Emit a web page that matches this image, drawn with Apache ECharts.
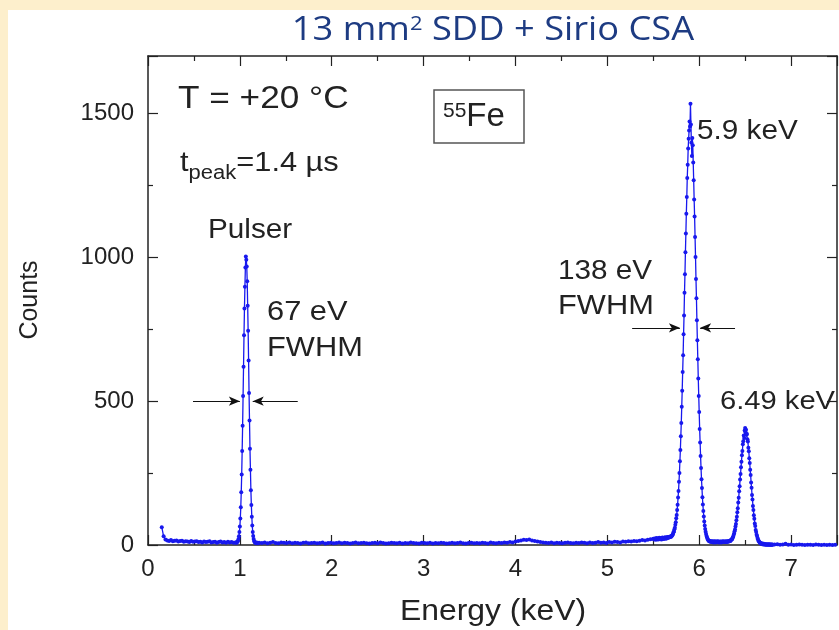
<!DOCTYPE html>
<html>
<head>
<meta charset="utf-8">
<script src="https://cdn.jsdelivr.net/npm/echarts@6/dist/echarts.min.js"></script>
<style>
  html, body { margin: 0; padding: 0; background: #fdefcc; }
  #chart { position: absolute; left: 8px; top: 10px; width: 831px; height: 620px; }
</style>
</head>
<body>
<div id="chart"></div>
<script>
// 55Fe spectrum in channel segments (start keV, step keV, counts)
const lowStart = 0.15, lowStep = 0.02
const lowCounts = [62, 30, 19, 16, 14, 17, 13, 15, 16, 12, 14, 15, 11, 13, 12, 10, 14, 11, 12, 13,
  10, 11, 9, 12, 10, 11, 13, 9, 10, 11, 8, 10, 12, 9, 10, 8, 11, 9, 10, 8, 9]

const pulserStart = 0.96, pulserStep = 0.005
const pulserCounts = [9, 8, 10, 12, 15, 21, 30, 45, 64, 92, 131, 183, 245, 327, 415, 518, 620, 729, 822, 898,
  965, 1003, 992, 968, 917, 832, 745, 641, 528, 433, 335, 262, 190, 139, 98, 68, 45, 31, 21, 14,
  11, 9, 8, 7, 9, 6, 7, 8, 6]

const midStart = 1.21, midStep = 0.03
const midCounts = [8, 7, 9, 6, 8, 10, 7, 6, 9, 8, 7, 9, 6, 8, 7, 5, 8, 9, 6, 7,
  8, 6, 7, 9, 5, 7, 8, 6, 7, 9, 6, 8, 7, 5, 7, 9, 6, 7, 8, 6,
  5, 7, 8, 6, 9, 7, 5, 6, 8, 7, 6, 8, 5, 7, 6, 9, 7, 6, 5, 8,
  7, 6, 8, 5, 7, 6, 8, 7, 5, 6, 8, 6, 7, 9, 6, 5, 7, 8, 6, 7,
  6, 8, 7, 5, 9, 7, 6, 8, 7, 9, 8, 10, 9, 12, 14, 16, 18, 17, 19, 16,
  14, 12, 10, 9, 8, 7, 9, 6, 8, 7, 6, 8, 9, 7, 6, 8, 7, 9, 8, 6,
  9, 7, 8, 10, 8, 9, 7, 10, 9, 11, 10, 9, 12, 11, 13, 12, 14, 13, 15, 17,
  16, 18, 20, 22]

// Mn K-alpha (5.9 keV) and K-beta (6.49 keV)
const mnStart = 5.505, mnStep = 0.005
const mnCounts = [21, 19, 23, 20, 22, 18, 24, 21, 20, 23, 19, 22, 25, 21, 20, 24, 22, 19, 23, 26,
  22, 24, 21, 25, 23, 27, 24, 22, 26, 25, 28, 24, 27, 26, 29, 28, 28, 30, 29, 31,
  33, 36, 38, 44, 47, 55, 60, 70, 79, 93, 104, 122, 140, 165, 188, 220, 250, 291, 330, 378,
  424, 481, 536, 601, 660, 733, 798, 877, 941, 1018, 1083, 1152, 1210, 1276, 1322, 1378, 1412, 1441, 1472, 1455,
  1534, 1462, 1398, 1352, 1415, 1390, 1330, 1268, 1201, 1142, 1071, 1001, 925, 858, 781, 712, 646, 579, 518, 462,
  403, 356, 309, 268, 229, 198, 166, 141, 118, 99, 82, 68, 56, 46, 38, 31, 27, 22, 19, 16,
  15, 13, 12, 14, 11, 12, 10, 13, 11, 12, 9, 12, 10, 13, 11, 9, 12, 10, 11, 13,
  10, 12, 9, 11, 10, 12, 11, 9, 12, 10, 11, 13, 10, 12, 11, 10, 12, 11, 13, 10,
  12, 11, 13, 12, 14, 13, 15, 14, 17, 18, 20, 21, 26, 29, 35, 40, 48, 54, 64, 73,
  86, 98, 114, 128, 148, 164, 187, 204, 228, 247, 270, 289, 312, 327, 350, 361, 381, 372, 398, 407,
  392, 401, 383, 386, 368, 360, 338, 326, 302, 285, 262, 243, 217, 199, 174, 158, 136, 122, 103, 91,
  75, 66, 52, 45, 36, 31, 24, 20, 15, 13, 10, 8, 7, 5, 6, 4, 3, 5, 3, 2,
  4, 3, 2, 3, 1, 2, 3, 1, 2, 2, 1, 3, 2, 1, 2, 1, 2, 1, 2, 1]

const highStart = 6.82, highStep = 0.03
const highCounts = [2, 3, 1, 2, 4, 1, 2, 0, 1, 2, 1, 0, 1, 1, 0, 2, 1, 0, 1, 0, 1, 0, 1]

// FWHM arrows: [from keV, to keV, counts]
const fwhmArrows = [[0.49, 1.0, 500], [1.63, 1.14, 500], [5.27, 5.79, 755], [6.39, 6.01, 755]]

function channels(start, step, counts) {
  return counts.map((c, i) => [+(start + i * step).toFixed(4), c])
}

const spectrum = [].concat(
  channels(lowStart, lowStep, lowCounts),
  channels(pulserStart, pulserStep, pulserCounts),
  channels(midStart, midStep, midCounts),
  channels(mnStart, mnStep, mnCounts),
  channels(highStart, highStep, highCounts)
)

const FONT = 'Liberation Sans'
const INK = '#222'
const BLUE = '#1818ee'
const STRETCH = 1.1   // the original figure is a bit wider than tall

// box frame: onZero off so the top/right copies stay on their own side
function frameAxis(extra) {
  return Object.assign({
    type: 'value',
    axisLine: { show: true, onZero: false, lineStyle: { color: INK, width: 1.5 } },
    axisTick: { show: true, inside: true, length: 10, lineStyle: { color: INK, width: 1.2 } },
    minorTick: { show: true, splitNumber: 2, length: 5, lineStyle: { color: INK, width: 1.2 } },
    splitLine: { show: false }
  }, extra)
}

function tickLabels() {
  return { fontSize: 24, color: INK, fontFamily: FONT, showMaxLabel: false, formatter: v => String(v) }
}

function note(x, y, text, size, align) {
  return {
    type: 'text', x: x, y: y, z: 10, scaleX: STRETCH,
    style: { text: text, fill: INK, fontSize: size, fontFamily: FONT, align: align || 'left', verticalAlign: 'middle' }
  }
}

const chart = echarts.init(document.getElementById('chart'))

const option = {
  backgroundColor: '#fff',
  animation: false,
  textStyle: { fontFamily: FONT },
  grid: { left: 140, top: 46, right: 2, bottom: 85 },
  xAxis: [
    frameAxis({ min: 0, max: 7.5, interval: 1, position: 'bottom',
      axisLabel: Object.assign(tickLabels(), { margin: 12 }) }),
    frameAxis({ min: 0, max: 7.5, interval: 1, position: 'top', axisLabel: { show: false } })
  ],
  yAxis: [
    frameAxis({ min: 0, max: 1700, interval: 500, position: 'left',
      axisLabel: Object.assign(tickLabels(), { margin: 14 }) }),
    frameAxis({ min: 0, max: 1700, interval: 500, position: 'right', axisLabel: { show: false } })
  ],
  series: [
    {
      type: 'line',
      data: spectrum,
      symbol: 'circle',
      symbolSize: 4,
      showSymbol: true,
      color: BLUE,
      lineStyle: { color: BLUE, width: 1.3 },
      itemStyle: { color: BLUE },
      markLine: {
        silent: true,
        symbol: ['none', 'arrow'],
        symbolSize: [7, 11],
        label: { show: false },
        lineStyle: { color: '#111', width: 1.2, type: 'solid' },
        emphasis: { disabled: true },
        data: fwhmArrows.map(a => [{ coord: [a[0], a[2]] }, { coord: [a[1], a[2]] }])
      }
    }
  ],
  graphic: [
    {
      type: 'text', x: 485, y: 21, z: 10, scaleX: STRETCH,
      style: {
        text: '{a|13 mm}{s|2}{a| SDD + Sirio CSA}',
        align: 'center', verticalAlign: 'middle',
        rich: {
          a: { fontSize: 33, fontFamily: 'Open Sans', fill: '#1d3b82' },
          s: { fontSize: 20, fontFamily: 'Open Sans', fill: '#1d3b82', verticalAlign: 'top' }
        }
      }
    },
    note(170, 89, 'T = +20 °C', 32),
    {
      type: 'text', x: 172, y: 153, z: 10, scaleX: STRETCH,
      style: {
        text: '{m|t}{sub|peak}{m|=1.4 µs}',
        align: 'left', verticalAlign: 'middle',
        rich: {
          m: { fontSize: 28, fontFamily: FONT, fill: INK, lineHeight: 40 },
          sub: { fontSize: 20, fontFamily: FONT, fill: INK, verticalAlign: 'bottom' }
        }
      }
    },
    note(200, 221, 'Pulser', 27),
    note(259, 302, '67 eV', 28),
    note(259, 338, 'FWHM', 28),
    note(550, 262, '138 eV', 27),
    note(550, 296, 'FWHM', 28),
    note(689, 122, '5.9 keV', 27),
    note(712, 392, '6.49 keV', 26.5),
    {
      type: 'rect', z: 10,
      shape: { x: 426, y: 80, width: 90, height: 53 },
      style: { fill: '#fff', stroke: '#555', lineWidth: 1.5 }
    },
    {
      type: 'text', x: 435, y: 107, z: 11,
      style: {
        text: '{s|55}{b|Fe}',
        align: 'left', verticalAlign: 'middle',
        rich: {
          s: { fontSize: 21, fontFamily: FONT, fill: INK, verticalAlign: 'top' },
          b: { fontSize: 33, fontFamily: FONT, fill: INK }
        }
      }
    },
    {
      type: 'text', x: 22, y: 290, z: 10, rotation: Math.PI / 2,
      style: { text: 'Counts', fill: INK, fontSize: 25, fontFamily: FONT, align: 'center', verticalAlign: 'middle' }
    },
    note(485, 602, 'Energy (keV)', 29, 'center')
  ]
}

chart.setOption(option)
window.addEventListener('resize', () => chart.resize())
</script>
</body>
</html>
